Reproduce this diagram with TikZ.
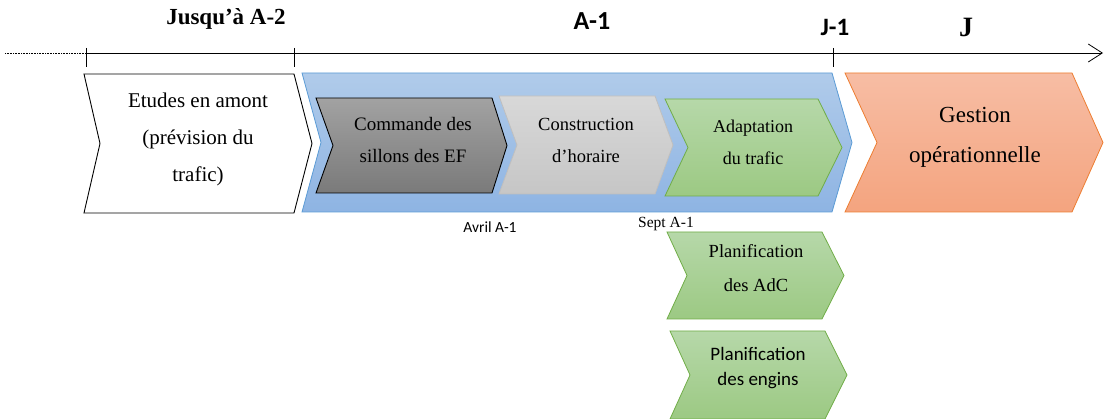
\documentclass[tikz,border=0pt]{standalone}
\usepackage{fontspec}
\setmainfont{Liberation Serif}
\newfontfamily\carlito{Carlito}
\usetikzlibrary{arrows.meta}
\definecolor{blueTop}{HTML}{B0CBEA}
\definecolor{blueBot}{HTML}{8EB4E3}
\definecolor{blueLine}{HTML}{5B9BD5}
\definecolor{dgTop}{HTML}{A2A2A2}
\definecolor{dgBot}{HTML}{7A7A7A}
\definecolor{lgTop}{HTML}{D8D8D8}
\definecolor{lgBot}{HTML}{C6C6C6}
\definecolor{lgLine}{HTML}{BFBFBF}
\definecolor{grTop}{HTML}{B6D8A9}
\definecolor{grBot}{HTML}{9CC983}
\definecolor{grLine}{HTML}{70AD47}
\definecolor{orTop}{HTML}{F7BDA4}
\definecolor{orBot}{HTML}{F4A47F}
\definecolor{orLine}{HTML}{ED7D31}
\tikzset{
  lbl/.style={anchor=base, inner sep=0pt, outer sep=0pt, align=center},
  whitechev/.style={draw=black, line width=0.9pt, fill=white},
  bluechev/.style={draw=blueLine, line width=0.8pt, top color=blueTop, bottom color=blueBot},
  darkchev/.style={draw=black, line width=0.9pt, top color=dgTop, bottom color=dgBot},
  lightchev/.style={draw=lgLine, line width=0.8pt, top color=lgTop, bottom color=lgBot},
  greenchev/.style={draw=grLine, line width=0.8pt, top color=grTop, bottom color=grBot},
  orangechev/.style={draw=orLine, line width=0.8pt, top color=orTop, bottom color=orBot},
  tick/.style={line width=0.8pt},
  axis/.style={line width=0.8pt, -{Straight Barb[length=14pt,width=18pt,line width=0.8pt]}},
}
% #1 style, #2 left x, #3 right x, #4 top y, #5 bottom y, #6 notch x, #7 tip x
\newcommand{\chevshape}[7]{%
  \path[#1] (#2,#4) -- (#3,#4) -- (#7,{(#4+#5)/2}) -- (#3,#5) -- (#2,#5) -- (#6,{(#4+#5)/2}) -- cycle;}
\begin{document}
\begin{tikzpicture}[x=1pt,y=-1pt]
\useasboundingbox (0,0) rectangle (1105,419);
% timeline
\coordinate (t0) at (5,53);
\coordinate (tA) at (86,53);
\coordinate (tB) at (294,53);
\coordinate (tC) at (833,53);
\coordinate (tEnd) at (1103,53);
\draw[line width=0.6pt, densely dotted] (t0) -- (tA);
\draw[axis] (tA) -- (tEnd);
\foreach \c in {tA,tB,tC} \draw[tick] ([yshift=5pt]\c) -- ([yshift=-14pt]\c);
% headers
\node[lbl, font=\fontsize{23}{26}\selectfont\bfseries] (h1) at (226,25) {Jusqu’à A-2};
\node[lbl, font=\carlito\fontsize{26}{28}\selectfont\bfseries] (h2) at (592,30) {A-1};
\node[lbl, font=\carlito\fontsize{25}{28}\selectfont\bfseries] (h3) at (835,36) {J-1};
\node[lbl, font=\fontsize{28}{30}\selectfont\bfseries] (h4) at (966,37) {J};
% chevrons
\chevshape{whitechev}{84}{294}{74}{213}{100}{312}
\chevshape{bluechev}{302}{832}{73}{212}{321}{852}
\chevshape{darkchev}{316}{492}{98}{193}{333}{507}
\chevshape{lightchev}{499}{655}{96}{194}{517}{673}
\chevshape{greenchev}{665}{818}{99}{196}{688}{842}
\chevshape{orangechev}{845}{1072}{73}{212}{877}{1103}
\chevshape{greenchev}{667}{822}{232}{319}{687}{844}
\chevshape{greenchev}{670}{825}{331}{419}{690}{847}
% texts (base anchor = baseline of the last line)
\node[lbl, font=\fontsize{21}{37}\selectfont] (etudes) at (198,182) {Etudes en amont\\(prévision du\\trafic)};
\node[lbl, font=\fontsize{19}{32}\selectfont] (commande) at (413,163) {Commande des\\sillons des EF};
\node[lbl, font=\fontsize{18.5}{32}\selectfont] (constr) at (586,163) {Construction\\d’horaire};
\node[lbl, font=\fontsize{18}{32}\selectfont] (adapt) at (753,165) {Adaptation\\du trafic};
\node[lbl, font=\fontsize{23}{40}\selectfont] (gestion) at (975,163) {Gestion\\opérationnelle};
\node[lbl, font=\fontsize{18.5}{34}\selectfont] (planadc) at (756,292) {Planification\\des AdC};
\node[lbl, font=\carlito\fontsize{19}{25}\selectfont] (planeng) at (758,385) {Planification\\des engins};
\node[lbl, font=\carlito\fontsize{15.5}{18}\selectfont] (avril) at (490,233) {Avril A-1};
\node[lbl, font=\fontsize{15.5}{18}\selectfont] (sept) at (666,228) {Sept A-1};
\end{tikzpicture}
\end{document}
